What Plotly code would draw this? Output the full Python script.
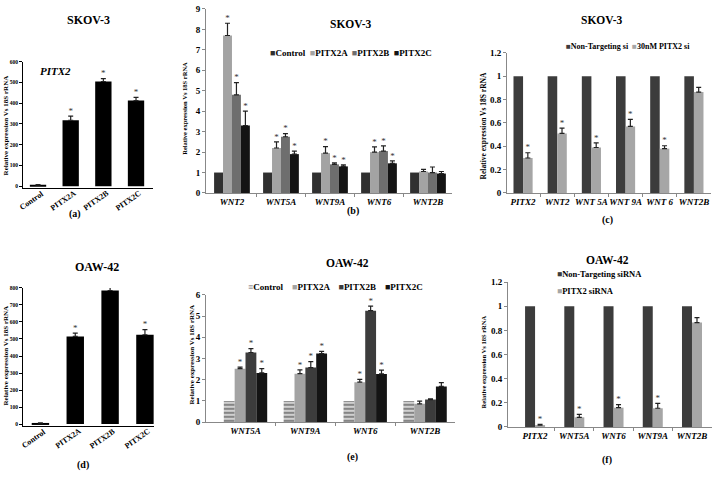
import plotly.graph_objects as go

W, H = 713, 478
FONT = "Liberation Serif"

# ---------------- data ----------------
# (a) SKOV-3 PITX2 overexpression
a_cats = ["Control", "PITX2A", "PITX2B", "PITX2C"]
a_vals = [5, 318, 505, 413]
a_errs = [2, 20, 14, 15]
a_sig = [False, True, True, True]

# (d) OAW-42 PITX2 overexpression
d_cats = ["Control", "PITX2A", "PITX2B", "PITX2C"]
d_vals = [5, 515, 785, 525]
d_errs = [2, 20, 20, 30]
d_sig = [False, True, True, True]

# (b) SKOV-3 WNT expression
b_cats = ["WNT2", "WNT5A", "WNT9A", "WNT6", "WNT2B"]
b_names = ["Control", "PITX2A", "PITX2B", "PITX2C"]
b_control = [1, 1, 1, 1, 1]
b_pitx2a = [7.7, 2.2, 1.95, 2.0, 1.05]
b_pitx2a_err = [0.6, 0.3, 0.32, 0.25, 0.1]
b_pitx2b = [4.8, 2.75, 1.4, 2.05, 1.0]
b_pitx2b_err = [0.6, 0.15, 0.07, 0.25, 0.27]
b_pitx2c = [3.3, 1.9, 1.3, 1.45, 0.95]
b_pitx2c_err = [0.7, 0.15, 0.07, 0.12, 0.1]
b_sig = [True, True, True, True, False]

# (c) SKOV-3 siRNA
c_cats = ["PITX2", "WNT2", "WNT 5A", "WNT 9A", "WNT 6", "WNT2B"]
c_names = ["Non-Targeting si", "30nM PITX2 si"]
c_nt = [1, 1, 1, 1, 1, 1]
c_si = [0.30, 0.51, 0.39, 0.57, 0.38, 0.865]
c_si_err = [0.045, 0.045, 0.04, 0.06, 0.025, 0.04]
c_sig = [True, True, True, True, True, False]

# (e) OAW-42 WNT expression
e_cats = ["WNT5A", "WNT9A", "WNT6", "WNT2B"]
e_names = ["Control", "PITX2A", "PITX2B", "PITX2C"]
e_control = [1, 1, 1, 1]
e_pitx2a = [2.52, 2.28, 1.88, 0.86]
e_pitx2a_err = [0.07, 0.18, 0.13, 0.13]
e_pitx2b = [3.28, 2.57, 5.25, 1.06]
e_pitx2b_err = [0.18, 0.28, 0.22, 0.04]
e_pitx2c = [2.32, 3.23, 2.27, 1.68]
e_pitx2c_err = [0.2, 0.1, 0.18, 0.18]
e_sig = [True, True, True, False]

# (f) OAW-42 siRNA
f_cats = ["PITX2", "WNT5A", "WNT6", "WNT9A", "WNT2B"]
f_names = ["Non-Targeting siRNA", "PITX2 siRNA"]
f_nt = [1, 1, 1, 1, 1]
f_si = [0.015, 0.08, 0.16, 0.155, 0.865]
f_si_err = [0.006, 0.025, 0.025, 0.04, 0.04]
f_sig = [True, True, True, True, False]

# ---------------- helpers ----------------
def dom_x(x0, x1):
    return [x0 / W, x1 / W]

def dom_y(ytop, ybot):
    return [1 - ybot / H, 1 - ytop / H]

def px(x):
    return x / W

def py(y):
    return 1 - y / H

fig = go.Figure()
ann = []

def add_group(k, cats, series, fill, xr, yr, box, dtick, catfont=9,
              italic=True, ytickfont=9, rotated=False, linecolor="#888888",
              boundary_ticks=True):
    n = len(series)
    w = fill / n
    xs = list(range(len(cats)))
    xa = "x" if k == 1 else f"x{k}"
    ya = "y" if k == 1 else f"y{k}"
    for j, s in enumerate(series):
        off = -fill / 2 + j * w
        err = s.get("err")
        marker = dict(color=s["color"], line=dict(width=0))
        if s.get("pattern"):
            marker["pattern"] = s["pattern"]
        fig.add_trace(go.Bar(
            x=xs, y=s["y"], width=w, offset=off, marker=marker,
            error_y=dict(type="data", array=err, arrayminus=[0] * len(xs),
                         symmetric=False, color="#222222", thickness=1.2,
                         width=2.5, visible=err is not None),
            xaxis=xa, yaxis=ya, showlegend=False, name=s["name"]))
        if s.get("sig") is not None:
            sx, sy = [], []
            for i, flag in enumerate(s["sig"]):
                if flag:
                    sx.append(i + off + w / 2)
                    sy.append(s["y"][i] + (err[i] if err else 0))
            fig.add_trace(go.Scatter(
                x=sx, y=sy, mode="text", text=["*"] * len(sx),
                textposition="top center", cliponaxis=False,
                textfont=dict(family=FONT, size=9, color="#333333"),
                xaxis=xa, yaxis=ya, showlegend=False, hoverinfo="skip"))
    x0, x1, ytop, ybot = box
    xaxis = dict(domain=dom_x(x0, x1), range=xr, anchor=ya,
                 tickmode="array", tickvals=xs, ticktext=cats,
                 showticklabels=not rotated, tickangle=0,
                 ticks="", showline=True, linecolor=linecolor, linewidth=1,
                 showgrid=False, zeroline=False,
                 tickfont=dict(family=FONT, size=catfont, color="black",
                               weight="bold",
                               style="italic" if italic else "normal"))
    if rotated:
        for i, c in zip(xs, cats):
            ann.append(dict(x=i, xref=xa, y=py(ybot), yref="paper", text=c,
                            showarrow=False, textangle=-35, xanchor="right",
                            yanchor="top", xshift=10, yshift=2,
                            font=dict(family=FONT, size=catfont, color="black",
                                      weight="bold")))
    if boundary_ticks:
        xaxis["minor"] = dict(tickvals=[i + 0.5 for i in range(len(cats) - 1)],
                              ticks="outside", ticklen=3, tickcolor=linecolor)
    yaxis = dict(domain=dom_y(ytop, ybot), range=yr, anchor=xa,
                 dtick=dtick, tick0=0, ticks="outside", ticklen=3,
                 tickcolor=linecolor, showline=True, linecolor=linecolor,
                 linewidth=1, showgrid=False, zeroline=False,
                 tickfont=dict(family=FONT, size=ytickfont, color="black",
                               weight="bold"))
    fig.update_layout(**{("xaxis" if k == 1 else f"xaxis{k}"): xaxis,
                         ("yaxis" if k == 1 else f"yaxis{k}"): yaxis})

# (a)
add_group(1, a_cats, [dict(name="PITX2", y=a_vals, err=a_errs, sig=a_sig, color="black")],
          0.5, [-0.46, 3.52], [-9.4, 600], (23, 153, 58, 187), 100,
          catfont=8, italic=False, ytickfont=5.5, rotated=True,
          linecolor="black", boundary_ticks=False)
# (b)
add_group(2, b_cats, [
    dict(name=b_names[0], y=b_control, color="#303030"),
    dict(name=b_names[1], y=b_pitx2a, err=b_pitx2a_err, sig=b_sig, color="#a3a3a3"),
    dict(name=b_names[2], y=b_pitx2b, err=b_pitx2b_err, sig=b_sig, color="#6e6e6e"),
    dict(name=b_names[3], y=b_pitx2c, err=b_pitx2c_err, sig=b_sig, color="#141414"),
], 0.73, [-0.53, 4.49], [0, 9], (206, 452, 4, 192), 1)
# (c)
add_group(3, c_cats, [
    dict(name=c_names[0], y=c_nt, color="#3c3c3c"),
    dict(name=c_names[1], y=c_si, err=c_si_err, sig=c_sig, color="#a6a6a6"),
], 0.56, [-0.47, 5.5], [0, 1.2], (507, 711, 49, 192), 0.2)
# (d)
add_group(4, d_cats, [dict(name="PITX2", y=d_vals, err=d_errs, sig=d_sig, color="black")],
          0.5, [-0.5, 3.26], [-11.5, 800], (23, 154, 289, 430), 100,
          catfont=8, italic=False, ytickfont=5.5, rotated=True,
          linecolor="black", boundary_ticks=False)
# (e)
add_group(5, e_cats, [
    dict(name=e_names[0], y=e_control, color="#d0d0d0",
         pattern=dict(shape="-", fgcolor="#3a3a3a", bgcolor="#d0d0d0",
                      size=4, solidity=0.5)),
    dict(name=e_names[1], y=e_pitx2a, err=e_pitx2a_err, sig=e_sig, color="#a3a3a3"),
    dict(name=e_names[2], y=e_pitx2b, err=e_pitx2b_err, sig=e_sig, color="#3c3c3c"),
    dict(name=e_names[3], y=e_pitx2c, err=e_pitx2c_err, sig=e_sig, color="#141414"),
], 0.725, [-0.66, 3.5], [0, 6], (206, 455, 296, 426), 1)
# (f)
add_group(6, f_cats, [
    dict(name=f_names[0], y=f_nt, color="#3c3c3c"),
    dict(name=f_names[1], y=f_si, err=f_si_err, sig=f_sig, color="#a6a6a6"),
], 0.51, [-0.69, 4.51], [0, 1.2], (508, 712, 283, 431), 0.2)

# ---------------- annotations ----------------
def text(x, y, s, size, italic=False, angle=0, xanchor="center", color="black"):
    ann.append(dict(x=px(x), y=py(y), xref="paper", yref="paper", text=s,
                    showarrow=False, xanchor=xanchor, yanchor="middle",
                    textangle=angle,
                    font=dict(family=FONT, size=size, color=color, weight="bold",
                              style="italic" if italic else "normal")))

# titles
text(88, 15, "SKOV-3", 12)
text(351, 19, "SKOV-3", 11.5)
text(602, 15, "SKOV-3", 11.5)
text(97, 268, "OAW-42", 12)
text(347, 264, "OAW-42", 11.5)
text(607, 260, "OAW-42", 11.5)
# panel letters
text(75, 213, "(a)", 10)
text(353, 210, "(b)", 10)
text(607, 220, "(c)", 10)
text(83, 470, "(d)", 10)
text(352, 462, "(e)", 10)
text(607, 465, "(f)", 10)
# gene label in (a)
text(55, 67, "PITX2", 11, italic=True)
# y titles
yt = "Relative expression Vs 18S rRNA"
text(6, 123, yt, 7, angle=-90)
text(185, 106, yt, 6.5, angle=-90)
text(483, 123, yt, 7.5, angle=-90)
text(6, 358, yt, 7, angle=-90)
text(192, 357, yt, 7, angle=-90)
text(483, 364, yt, 6.5, angle=-90)

def sq(color, ch="■"):
    return f"<span style='color:{color}'>{ch}</span>"

# legends
text(351, 49, f"{sq('#303030')}Control  {sq('#a3a3a3')}PITX2A  {sq('#6e6e6e')}PITX2B  {sq('#141414')}PITX2C", 9)
text(628, 42, f"{sq('#3c3c3c')}{c_names[0]}  {sq('#a6a6a6')}{c_names[1]}", 8)
text(335, 288, f"{sq('#6a6a6a', '≡')}Control    {sq('#a3a3a3')}PITX2A    {sq('#3c3c3c')}PITX2B    {sq('#141414')}PITX2C", 9)
text(555, 275, f"{sq('#3c3c3c')}{f_names[0]}", 8.5, xanchor="left")
text(555, 292, f"{sq('#a6a6a6')}{f_names[1]}", 8.5, xanchor="left")

fig.update_layout(
    width=W, height=H, margin=dict(l=0, r=0, t=0, b=0),
    paper_bgcolor="white", plot_bgcolor="rgba(0,0,0,0)",
    showlegend=False, annotations=ann, barmode="overlay",
)

fig.write_html(
    "out.html",
    config={"displayModeBar": False},
    post_script="document.body.style.margin='0';document.body.style.overflow='hidden';",
)
